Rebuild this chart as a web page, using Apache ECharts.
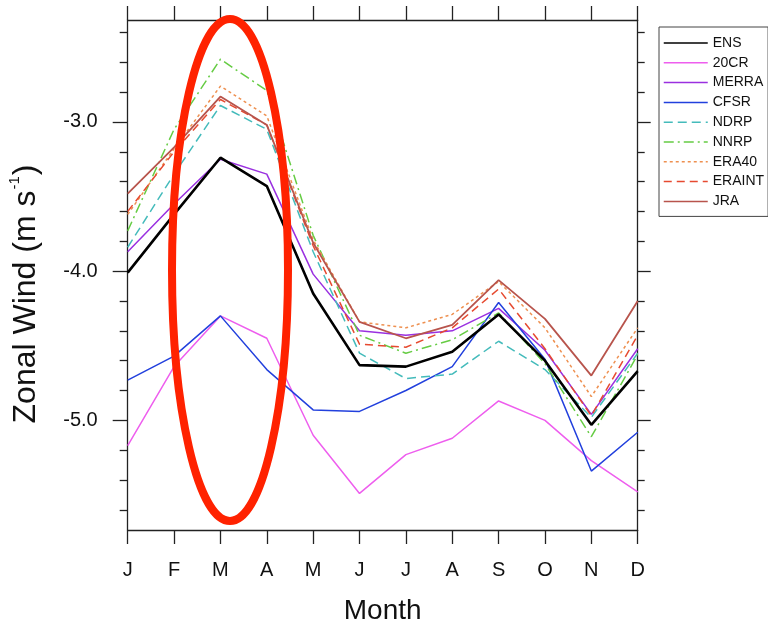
<!DOCTYPE html>
<html>
<head>
<meta charset="utf-8">
<script src="https://cdn.jsdelivr.net/npm/echarts@6/dist/echarts.min.js"></script>
<style>
  html, body { margin: 0; padding: 0; background: #fff; }
  #chart { width: 768px; height: 624px; }
</style>
</head>
<body>
<div id="chart"></div>
<script>
// Monthly climatology of zonal wind from several reanalyses
const months = ['J', 'F', 'M', 'A', 'M', 'J', 'J', 'A', 'S', 'O', 'N', 'D'];

const ens    = [-4.01, -3.62, -3.24, -3.43, -4.15, -4.63, -4.64, -4.54, -4.29, -4.60, -5.03, -4.67];
const cr20   = [-5.17, -4.64, -4.30, -4.45, -5.10, -5.49, -5.23, -5.12, -4.87, -5.00, -5.27, -5.48];
const merra  = [-3.87, -3.55, -3.25, -3.35, -4.02, -4.40, -4.43, -4.40, -4.25, -4.53, -4.96, -4.52];
const cfsr   = [-4.73, -4.57, -4.30, -4.66, -4.93, -4.94, -4.80, -4.64, -4.21, -4.59, -5.34, -5.08];
const ndrp   = [-3.84, -3.35, -2.89, -3.05, -3.87, -4.55, -4.72, -4.69, -4.47, -4.66, -4.98, -4.55];
const nnrp   = [-3.73, -3.05, -2.58, -2.79, -3.76, -4.43, -4.55, -4.46, -4.28, -4.62, -5.11, -4.56];
const era40  = [-3.62, -3.18, -2.76, -2.96, -3.79, -4.34, -4.38, -4.29, -4.07, -4.38, -4.84, -4.38];
const eraint = [-3.60, -3.20, -2.85, -3.02, -3.83, -4.49, -4.51, -4.38, -4.12, -4.52, -4.97, -4.43];
const jra    = [-3.48, -3.17, -2.83, -3.02, -3.81, -4.34, -4.45, -4.36, -4.06, -4.32, -4.70, -4.20];

const yMin = -5.735;
const yMax = -2.317;
const majorTicks = [-5.0, -4.0, -3.0];
const minorTicks = [-5.6, -5.4, -5.2, -4.8, -4.6, -4.4, -4.2, -3.8, -3.6, -3.4, -3.2, -2.8, -2.6, -2.4];

const FONT = "'Liberation Sans', Arial, Helvetica, sans-serif";
const AXIS_COLOR = '#222';

const chart = echarts.init(document.getElementById('chart'), null, { renderer: 'canvas' });

function lineSeries(name, data, color, width, dash, z) {
  return {
    name: name,
    type: 'line',
    data: data,
    xAxisIndex: 0,
    yAxisIndex: 0,
    symbol: 'none',
    smooth: false,
    z: z || 2,
    lineStyle: { color: color, width: width, type: dash || 'solid' },
    itemStyle: { color: color },
    emphasis: { disabled: true },
    animation: false
  };
}

function yAxisDef(position, ticks, len, showLabels, showLine) {
  return {
    type: 'value',
    position: position,
    min: yMin,
    max: yMax,
    axisLine: { show: showLine, lineStyle: { color: AXIS_COLOR, width: 1.3 } },
    axisTick: {
      show: true,
      inside: false,
      length: len,
      customValues: ticks,
      lineStyle: { color: AXIS_COLOR, width: 1.3 }
    },
    axisLabel: {
      show: showLabels,
      customValues: ticks,
      margin: 30,
      fontSize: 20,
      fontFamily: FONT,
      color: '#111',
      padding: [8, 0, 0, 0],
      formatter: v => Number(v).toFixed(1)
    },
    splitLine: { show: false }
  };
}

const option = {
  backgroundColor: '#ffffff',
  animation: false,
  grid: {
    left: 127.7, right: 130.3, top: 20, bottom: 94,
    containLabel: false,
    outerBoundsMode: 'none'
  },
  xAxis: [
    {
      type: 'category',
      data: months,
      position: 'bottom',
      boundaryGap: false,
      axisLine: { show: true, lineStyle: { color: AXIS_COLOR, width: 1.3 } },
      axisTick: { show: true, inside: false, length: 14, interval: 0, lineStyle: { color: AXIS_COLOR, width: 1.3 } },
      axisLabel: { show: true, interval: 0, margin: 30, fontSize: 20, fontFamily: FONT, color: '#111' },
      splitLine: { show: false },
      name: 'Month',
      nameLocation: 'middle',
      nameGap: 67,
      nameTextStyle: { fontSize: 28, fontFamily: FONT, color: '#111' }
    },
    {
      type: 'category',
      data: months,
      position: 'top',
      boundaryGap: false,
      axisLine: { show: true, lineStyle: { color: AXIS_COLOR, width: 1.3 } },
      axisTick: { show: true, inside: false, length: 14, interval: 0, lineStyle: { color: AXIS_COLOR, width: 1.3 } },
      axisLabel: { show: false },
      splitLine: { show: false }
    }
  ],
  yAxis: [
    Object.assign(yAxisDef('left', majorTicks, 15, true, true), {
      name: '{t|Zonal Wind (m s}{s|-1}{t|)}',
      nameLocation: 'middle',
      nameGap: 84,
      nameRotate: 90,
      nameTextStyle: {
        color: '#111',
        padding: [0, 38, 0, 0],
        rich: {
          t: { fontSize: 32, fontFamily: FONT, color: '#111', lineHeight: 36 },
          s: { fontSize: 15, fontFamily: FONT, color: '#111', verticalAlign: 'top', lineHeight: 36, padding: [0, 1, 0, 1] }
        }
      }
    }),
    yAxisDef('left', minorTicks, 8, false, false),
    yAxisDef('right', majorTicks, 13, false, true),
    yAxisDef('right', minorTicks, 7, false, false)
  ],
  legend: {
    show: true,
    orient: 'vertical',
    left: 659,
    top: 27,
    width: 107,
    padding: [9, 4, 8, 4],
    itemWidth: 44,
    itemHeight: 14,
    itemGap: 5.8,
    borderColor: '#444',
    borderWidth: 1,
    selectedMode: false,
    itemStyle: { opacity: 0 },
    lineStyle: { width: 1.5 },
    textStyle: { fontSize: 14, fontFamily: FONT, color: '#111', lineHeight: 14 },
    data: ['ENS', '20CR', 'MERRA', 'CFSR', 'NDRP', 'NNRP', 'ERA40', 'ERAINT', 'JRA']
  },
  series: [
    lineSeries('ENS', ens, '#000000', 2.6, 'solid', 5),
    lineSeries('20CR', cr20, '#EE5EEE', 1.5),
    lineSeries('MERRA', merra, '#9A30E0', 1.5),
    lineSeries('CFSR', cfsr, '#2240DD', 1.5),
    lineSeries('NDRP', ndrp, '#44BBBB', 1.5, [9, 5]),
    lineSeries('NNRP', nnrp, '#66CC44', 1.5, [10, 4, 2, 4]),
    lineSeries('ERA40', era40, '#EE9050', 1.5, [3, 3]),
    lineSeries('ERAINT', eraint, '#E64A30', 1.5, [8, 5]),
    lineSeries('JRA', jra, '#B8544C', 1.8)
  ],
  graphic: [
    {
      type: 'ellipse',
      shape: { cx: 230, cy: 270, rx: 58, ry: 251 },
      style: { fill: 'none', stroke: '#FF2200', lineWidth: 8 },
      z: 100,
      silent: true
    }
  ]
};

chart.setOption(option);
</script>
</body>
</html>
